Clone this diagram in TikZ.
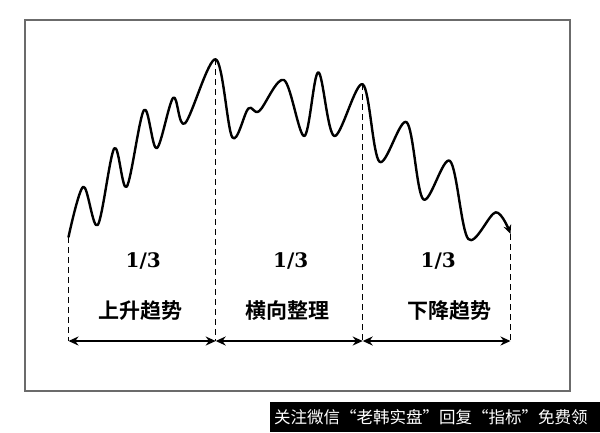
\documentclass[tikz,border=0pt]{standalone}
\usepackage{fontspec}
\newfontfamily\cjk{Noto Sans CJK SC}[BoldFont={Noto Sans CJK SC Bold}]
\newfontfamily\numfont{DejaVu Serif}
\usetikzlibrary{arrows.meta}
\tikzset{
  frame/.style={draw=black!58, line width=1.6pt},
  trend/.style={line width=2.4pt, line join=round, line cap=round},
  guide/.style={line width=1.4pt, dash pattern=on 6pt off 4pt},
  span/.style={line width=2pt, {Stealth[length=10pt,width=9pt]}-{Stealth[length=10pt,width=9pt]}},
  frac/.style={font=\numfont\bfseries\fontsize{20}{22}\selectfont, inner sep=0pt},
  phase/.style={font=\cjk\bfseries\fontsize{21}{23}\selectfont, inner sep=0pt},
  mark box/.style={fill=black, draw=none},
  mark text/.style={text=white, font=\cjk\fontsize{16.5}{18}\selectfont, inner sep=0pt, anchor=west}
}
\begin{document}
\begin{tikzpicture}[x=1pt,y=-1pt]
\useasboundingbox (0,0) rectangle (600,432);
\fill[white] (0,0) rectangle (600,432);
\draw[frame] (25,20) rectangle (570,391);

% key points
\coordinate (s) at (68.5,237);
\coordinate (p1) at (215.7,59.3);
\coordinate (p2) at (362.7,84.3);
\coordinate (e) at (510.5,234);
\coordinate (b0) at (68.5,341);
\coordinate (b1) at (215.7,341);
\coordinate (b2) at (362.7,341);
\coordinate (b3) at (510.5,341);

% guides
\draw[guide] (s) -- (b0);
\draw[guide] (p1) -- (b1);
\draw[guide] (p2) -- (b2);
\draw[guide] (e) -- (b3);

% price curve
\draw[trend, -{Stealth[length=9pt,width=8pt]}] plot[smooth, tension=0.55] coordinates {
 (68.5,237) (83.3,186.7) (97.7,225) (114.3,148.3) (126.7,186.7) (144,110)
 (156.7,148.3) (173.3,97.7) (185,123.3) (215.7,59.3) (232.3,137.3)
 (248.3,108.5) (259.3,111) (284,80) (304.3,136) (318.3,72.3) (334.3,136)
 (362.7,84.3) (379.5,161.7) (406.7,122.3) (423.3,199.3) (450,161)
 (468.3,239) (495.7,212.3) (510.5,234)};

% spans
\draw[span] (b0) -- (b1);
\draw[span] (b1) -- (b2);
\draw[span] (b2) -- (b3);

\node[frac] (f1) at (143.3,261) {1/3};
\node[frac] (f2) at (290.7,261) {1/3};
\node[frac] (f3) at (438.3,261) {1/3};

\node[phase] (t1) at (140,311) {上升趋势};
\node[phase] (t2) at (287.3,311) {横向整理};
\node[phase] (t3) at (449,311) {下降趋势};

% watermark
\fill[mark box] (270,402) rectangle (600,432);
\node[mark text] (wm) at (274,417) {关注微信“老韩实盘”回复“指标”免费领};
\end{tikzpicture}
\end{document}
